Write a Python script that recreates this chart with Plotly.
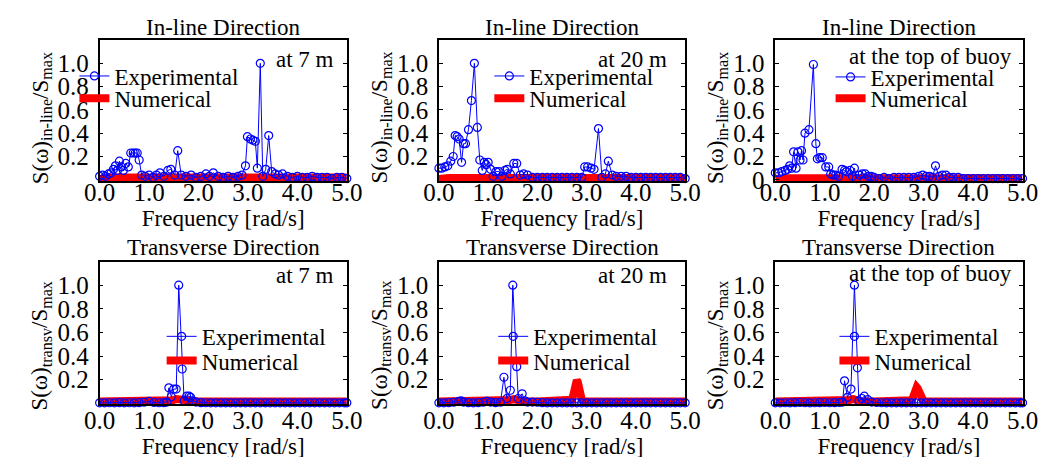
import plotly.graph_objects as go

W, H = 1047, 457
FONT = "Times New Roman, Liberation Serif, DejaVu Serif, serif"

# ---------------- data ----------------
# In-line, at 7 m
f_il7 = [0.00,0.06,0.12,0.18,0.23,0.28,0.32,0.36,0.40,0.44,0.48,0.53,0.58,0.63,0.68,0.72,0.76,0.80,0.85,0.92,
         1.00,1.08,1.15,1.22,1.30,1.38,1.44,1.52,1.58,1.65,1.75,1.85,1.95,2.05,2.15,2.22,2.30,2.40,2.50,2.60,
         2.70,2.80,2.88,2.95,2.99,3.05,3.10,3.15,3.19,3.25,3.30,3.36,3.42,3.48,3.55,3.62,3.70,3.80,3.90,4.00,
         4.10,4.20,4.30,4.40,4.50,4.60,4.70,4.80,4.90,5.00]
s_il7 = [0.03,0.04,0.03,0.05,0.06,0.09,0.12,0.08,0.16,0.11,0.08,0.14,0.11,0.23,0.23,0.23,0.23,0.17,0.04,0.03,
         0.04,0.02,0.04,0.06,0.03,0.08,0.09,0.04,0.25,0.04,0.03,0.04,0.02,0.03,0.05,0.03,0.06,0.03,0.02,0.03,
         0.02,0.03,0.04,0.12,0.37,0.35,0.34,0.33,0.10,1.00,0.03,0.09,0.38,0.07,0.05,0.04,0.05,0.03,0.02,0.03,
         0.02,0.02,0.03,0.02,0.02,0.02,0.01,0.02,0.02,0.01]

# In-line, at 20 m
f_il20 = [0.00,0.06,0.12,0.18,0.24,0.29,0.33,0.37,0.41,0.46,0.50,0.54,0.60,0.66,0.72,0.78,0.83,0.88,0.92,0.96,
          1.00,1.05,1.10,1.16,1.22,1.28,1.34,1.39,1.45,1.52,1.58,1.65,1.72,1.80,1.90,2.00,2.10,2.20,2.30,2.40,
          2.50,2.60,2.70,2.80,2.90,2.96,3.02,3.09,3.15,3.24,3.31,3.38,3.44,3.52,3.60,3.70,3.80,3.90,4.00,4.10,
          4.20,4.30,4.40,4.50,4.60,4.70,4.80,4.90,5.00]
s_il20 = [0.10,0.10,0.11,0.12,0.16,0.20,0.38,0.37,0.35,0.15,0.31,0.31,0.43,0.68,1.00,0.45,0.17,0.08,0.15,0.13,
          0.15,0.09,0.03,0.07,0.07,0.03,0.08,0.09,0.05,0.14,0.14,0.04,0.05,0.04,0.02,0.02,0.02,0.02,0.02,0.02,
          0.02,0.02,0.02,0.02,0.02,0.11,0.11,0.10,0.09,0.44,0.02,0.05,0.16,0.04,0.03,0.03,0.03,0.02,0.02,0.02,
          0.02,0.02,0.02,0.02,0.02,0.02,0.02,0.02,0.01]

# In-line, at the top of buoy
f_ilb = [0.00,0.07,0.13,0.20,0.25,0.29,0.33,0.37,0.42,0.46,0.50,0.53,0.56,0.60,0.68,0.77,0.82,0.85,0.90,0.95,
         1.02,1.08,1.12,1.17,1.22,1.28,1.35,1.40,1.44,1.51,1.56,1.60,1.64,1.70,1.76,1.82,1.88,1.94,2.00,2.10,
         2.20,2.30,2.40,2.50,2.60,2.70,2.80,2.90,2.98,3.05,3.12,3.18,3.24,3.31,3.38,3.45,3.52,3.60,3.70,3.80,
         3.90,4.00,4.10,4.20,4.30,4.40,4.50,4.60,4.70,4.80,4.90,5.00]
s_ilb = [0.06,0.06,0.07,0.08,0.09,0.12,0.10,0.24,0.10,0.24,0.17,0.25,0.17,0.40,0.43,0.99,0.31,0.18,0.19,0.19,
         0.11,0.11,0.05,0.04,0.04,0.03,0.09,0.08,0.07,0.08,0.03,0.10,0.01,0.04,0.05,0.05,0.03,0.03,0.02,0.01,
         0.02,0.01,0.02,0.02,0.02,0.02,0.02,0.03,0.04,0.03,0.03,0.02,0.12,0.03,0.04,0.04,0.02,0.02,0.02,0.01,
         0.01,0.01,0.01,0.01,0.01,0.01,0.01,0.01,0.01,0.01,0.01,0.01]

# Transverse, at 7 m
f_tr7 = [0.00,0.10,0.20,0.30,0.40,0.50,0.60,0.70,0.80,0.90,1.00,1.10,1.20,1.30,1.36,1.40,1.45,1.50,1.55,1.60,
         1.67,1.71,1.76,1.81,1.84,1.88,1.95,2.05,2.15,2.25,2.35,2.45,2.55,2.65,2.75,2.85,2.95,3.05,3.15,3.25,
         3.35,3.45,3.55,3.65,3.75,3.85,3.95,4.05,4.15,4.25,4.35,4.45,4.55,4.65,4.75,4.85,4.95,5.00]
s_tr7 = [0.003,0.003,0.004,0.003,0.005,0.003,0.004,0.003,0.005,0.008,0.015,0.006,0.004,0.005,0.010,0.13,0.055,0.12,0.12,1.00,
         0.29,0.02,0.06,0.06,0.05,0.02,0.010,0.005,0.004,0.003,0.003,0.003,0.003,0.003,0.003,0.003,0.003,0.003,0.003,0.003,
         0.003,0.003,0.003,0.003,0.003,0.003,0.003,0.003,0.003,0.003,0.003,0.003,0.003,0.003,0.003,0.003,0.003,0.003]

# Transverse, at 20 m
f_tr20 = [0.00,0.10,0.20,0.30,0.40,0.45,0.50,0.60,0.70,0.80,0.90,0.97,1.05,1.15,1.25,1.32,1.38,1.45,1.50,1.58,
          1.61,1.69,1.74,1.80,1.90,2.00,2.10,2.20,2.30,2.40,2.50,2.60,2.70,2.80,2.90,3.00,3.10,3.20,3.30,3.40,
          3.50,3.60,3.70,3.80,3.90,4.00,4.10,4.20,4.30,4.40,4.50,4.60,4.70,4.80,4.90,5.00]
s_tr20 = [0.003,0.003,0.005,0.008,0.015,0.020,0.010,0.005,0.003,0.005,0.008,0.015,0.010,0.005,0.008,0.22,0.04,0.11,1.00,0.31,
          0.04,0.08,0.02,0.010,0.010,0.008,0.005,0.003,0.003,0.003,0.003,0.003,0.003,0.003,0.003,0.003,0.003,0.003,0.003,0.003,
          0.003,0.003,0.003,0.003,0.003,0.003,0.003,0.003,0.003,0.003,0.003,0.003,0.003,0.003,0.003,0.003]

# Transverse, at the top of buoy
f_trb = [0.00,0.10,0.20,0.30,0.40,0.50,0.60,0.70,0.80,0.90,1.00,1.10,1.20,1.30,1.36,1.40,1.46,1.53,1.60,1.66,
         1.69,1.75,1.80,1.87,1.95,2.05,2.15,2.25,2.35,2.45,2.55,2.65,2.75,2.85,2.95,3.05,3.15,3.25,3.35,3.45,
         3.55,3.65,3.75,3.85,3.95,4.05,4.15,4.25,4.35,4.45,4.55,4.65,4.75,4.85,4.95,5.00]
s_trb = [0.003,0.003,0.004,0.003,0.005,0.006,0.004,0.003,0.004,0.005,0.006,0.004,0.005,0.006,0.010,0.19,0.05,0.12,1.00,0.30,
         0.02,0.04,0.06,0.03,0.010,0.006,0.004,0.003,0.003,0.003,0.003,0.003,0.003,0.003,0.003,0.003,0.003,0.003,0.003,0.003,
         0.003,0.003,0.003,0.003,0.003,0.003,0.003,0.003,0.003,0.003,0.003,0.003,0.003,0.003,0.003,0.003]

# Numerical results
nf_top = [0.00,0.05,0.10,0.15,0.20,0.50,1.00,2.00,3.00,4.00,5.00]
ns_il7 = [0.008,0.012,0.016,0.019,0.020,0.020,0.020,0.020,0.020,0.020,0.020]
ns_il20 = [0.006,0.012,0.015,0.016,0.016,0.016,0.015,0.015,0.015,0.015,0.015]
ns_ilb = [0.006,0.010,0.013,0.014,0.014,0.014,0.014,0.014,0.014,0.014,0.014]

nf_tr7 = [0.00,1.00,1.40,1.48,1.55,1.62,1.70,1.80,2.00,5.00]
ns_tr7 = [0.014,0.014,0.015,0.025,0.035,0.030,0.020,0.015,0.014,0.014]
nf_tr20 = [0.00,1.00,1.35,1.45,1.52,1.60,1.70,2.00,2.66,2.70,2.73,2.76,2.78,2.80,2.82,2.84,2.87,2.90,2.94,5.00]
ns_tr20 = [0.014,0.014,0.015,0.028,0.035,0.025,0.015,0.014,0.015,0.030,0.070,0.140,0.180,0.195,0.180,0.140,0.070,0.030,0.015,0.014]
nf_trb = [0.00,1.00,1.40,1.50,1.58,1.65,1.72,2.00,2.72,2.76,2.79,2.82,2.84,2.86,2.88,2.90,2.93,2.96,3.00,5.00]
ns_trb = [0.014,0.014,0.015,0.028,0.035,0.025,0.015,0.014,0.015,0.025,0.055,0.100,0.125,0.135,0.125,0.100,0.055,0.025,0.015,0.014]

for a, b in [(f_il7, s_il7), (f_il20, s_il20), (f_ilb, s_ilb), (f_tr7, s_tr7), (f_tr20, s_tr20),
             (f_trb, s_trb), (nf_top, ns_il7), (nf_top, ns_il20), (nf_top, ns_ilb), (nf_tr7, ns_tr7),
             (nf_tr20, ns_tr20), (nf_trb, ns_trb)]:
    assert len(a) == len(b), (len(a), len(b))

x_ticks = [0, 1, 2, 3, 4, 5]
x_ticktext = ["0.0", "1.0", "2.0", "3.0", "4.0", "5.0"]
y_ticks = [0.2, 0.4, 0.6, 0.8, 1.0]
y_ticks_zero = [0, 0.2, 0.4, 0.6, 0.8, 1.0]

YLAB_IL = "S(ω)<sub>in-line</sub>/S<sub>max</sub>"
YLAB_TR = "S(ω)<sub>transv</sub>/S<sub>max</sub>"

panels = [
    dict(title="In-line Direction", loc="at 7 m", fe=f_il7, se=s_il7, fn=nf_top, sn=ns_il7, ylab=YLAB_IL, zero=False,
         leg=(115, 77, 100)),
    dict(title="In-line Direction", loc="at 20 m", fe=f_il20, se=s_il20, fn=nf_top, sn=ns_il20, ylab=YLAB_IL, zero=False,
         leg=(543, 77, 100)),
    dict(title="In-line Direction", loc="at the top of buoy", fe=f_ilb, se=s_ilb, fn=nf_top, sn=ns_ilb, ylab=YLAB_IL,
         zero=True, leg=(895, 78, 100)),
    dict(title="Transverse Direction", loc="at 7 m", fe=f_tr7, se=s_tr7, fn=nf_tr7, sn=ns_tr7, ylab=YLAB_TR, zero=False,
         leg=(205, 338, 363)),
    dict(title="Transverse Direction", loc="at 20 m", fe=f_tr20, se=s_tr20, fn=nf_tr20, sn=ns_tr20, ylab=YLAB_TR,
         zero=False, leg=(547, 338, 363)),
    dict(title="Transverse Direction", loc="at the top of buoy", fe=f_trb, se=s_trb, fn=nf_trb, sn=ns_trb, ylab=YLAB_TR,
         zero=False, leg=(899, 338, 363)),
]

# ---------------- layout geometry (pixels) ----------------
col_l = [78, 428, 775]
col_r = [333, 682, 1030]
row_t = [33, 261]
row_b = [178, 408]
title_y = [20, 246]
loc_y = [[53, 53, 50], [275, 275, 273]]
loc_r = [322, 665, 1021]
ytitle_x = [18, 368, 715]
ytitle_y = [113, 347]
xtick_standoff = [-12, -7]
legend_dy = [-7, 0]

fig = go.Figure()
layout = dict(
    width=W, height=H, margin=dict(l=0, r=0, t=0, b=0),
    paper_bgcolor="white", plot_bgcolor="white",
    font=dict(family=FONT, size=23, color="black"),
    annotations=[],
)

for i, p in enumerate(panels):
    r, c = divmod(i, 3)
    n = i + 1
    xa = "x" if n == 1 else f"x{n}"
    ya = "y" if n == 1 else f"y{n}"
    leg_e = "legend" if 2 * i + 1 == 1 else f"legend{2 * i + 1}"
    leg_n = f"legend{2 * i + 2}"

    fig.add_trace(go.Scatter(
        x=p["fn"], y=p["sn"], mode="lines", name="Numerical",
        line=dict(color="#ff0000", width=8), xaxis=xa, yaxis=ya, legend=leg_n, showlegend=True))
    fig.add_trace(go.Scatter(
        x=p["fe"], y=p["se"], mode="lines+markers", name="Experimental",
        line=dict(color="#0000ff", width=1),
        marker=dict(symbol="circle-open", size=8, color="#0000ff", line=dict(width=1.2, color="#0000ff")),
        cliponaxis=False, xaxis=xa, yaxis=ya, legend=leg_e, showlegend=True))

    xkey = "xaxis" if n == 1 else f"xaxis{n}"
    ykey = "yaxis" if n == 1 else f"yaxis{n}"
    layout[xkey] = dict(
        domain=[col_l[c] / W, col_r[c] / W], anchor=ya, range=[0, 5],
        tickvals=x_ticks, ticktext=x_ticktext, ticks="", showgrid=False, zeroline=False,
        showline=True, mirror=True, linecolor="black", linewidth=1.5,
        tickfont=dict(family=FONT, size=25), ticklabelstandoff=xtick_standoff[r],
        title=dict(text="Frequency [rad/s]", font=dict(family=FONT, size=23), standoff=0),
    )
    yt = y_ticks_zero if p["zero"] else y_ticks
    layout[ykey] = dict(
        domain=[1 - row_b[r] / H, 1 - row_t[r] / H], anchor=xa, range=[-0.01, 1.2],
        tickvals=yt, ticktext=["0" if v == 0 else f"{v:.1f}" for v in yt],
        ticks="inside", ticklen=4, tickwidth=1.2, tickcolor="black",
        showgrid=False, zeroline=False, showline=True, mirror="ticks", linecolor="black", linewidth=1.5,
        tickfont=dict(family=FONT, size=25), ticklabelstandoff=4,
    )
    # y-axis title (placed as rotated text, as in the reference it sits low beside the axis)
    layout["annotations"].append(dict(
        text=p["ylab"], x=ytitle_x[c] / W, y=1 - ytitle_y[r] / H, xref="paper", yref="paper",
        xanchor="center", yanchor="middle", textangle=-90, showarrow=False, font=dict(family=FONT, size=23)))
    # legends (one per entry so that each can be placed exactly)
    tx, ye, yn = p["leg"]
    for key, yy in [(leg_e, ye), (leg_n, yn)]:
        layout[key] = dict(
            x=(tx - 63) / W, y=1 - (yy + legend_dy[r]) / H, xanchor="left", yanchor="middle",
            xref="paper", yref="paper",
            bgcolor="rgba(0,0,0,0)", borderwidth=0, font=dict(family=FONT, size=23), itemwidth=30,
        )
    # subplot title
    layout["annotations"].append(dict(
        text=p["title"], x=(col_l[c] + col_r[c]) / 2 / W, y=1 - title_y[r] / H, xref="paper", yref="paper",
        xanchor="center", yanchor="middle", showarrow=False, font=dict(family=FONT, size=23)))
    # location label
    layout["annotations"].append(dict(
        text=p["loc"], x=loc_r[c] / W, y=1 - loc_y[r][c] / H, xref="paper", yref="paper",
        xanchor="right", yanchor="middle", showarrow=False, font=dict(family=FONT, size=23)))

fig.update_layout(**layout)
fig.write_html("out.html")
